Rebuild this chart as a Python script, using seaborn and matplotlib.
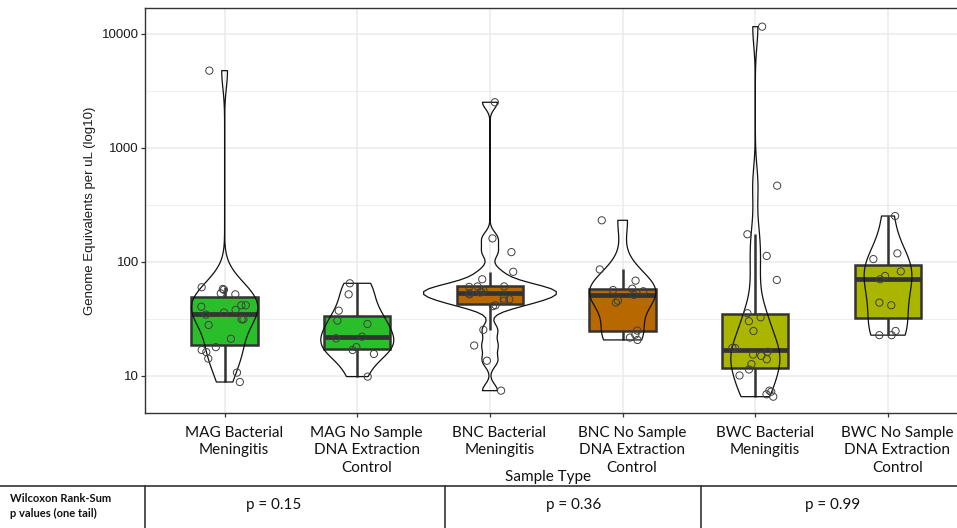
import numpy as np
import pandas as pd
import seaborn as sns
import matplotlib
matplotlib.use("Agg")
import matplotlib.pyplot as plt
from matplotlib import font_manager
from matplotlib.ticker import LogLocator, NullFormatter, FixedLocator
from matplotlib.transforms import blended_transform_factory
from matplotlib.lines import Line2D

# ---------------- data ----------------
groups = ["MAG_BM", "MAG_NS", "BNC_BM", "BNC_NS", "BWC_BM", "BWC_NS"]
tick_labels = [
    "MAG Bacterial\nMeningitis",
    "MAG No Sample\nDNA Extraction\nControl",
    "BNC Bacterial\nMeningitis",
    "BNC No Sample\nDNA Extraction\nControl",
    "BWC Bacterial\nMeningitis",
    "BWC No Sample\nDNA Extraction\nControl",
]
mag_bm = [4770, 60, 58, 52, 53, 57, 40.5, 36, 41.7, 41.7, 38, 34.5, 31.4, 31.4,
          28, 21.2, 16.9, 16.2, 17.9, 14.2, 10.7, 8.85]
mag_ns = [65, 52, 37.4, 30.6, 28.6, 22.1, 21.4, 17.9, 16.9, 15.6, 9.87]
bnc_bm = [2518, 161, 122, 82, 70.5, 61, 61, 60.4, 56, 53, 54.5, 52, 54, 47.6,
          47, 45.7, 41, 41.7, 25.4, 18.5, 13.6, 7.43]
bnc_ns = [232, 86, 68.6, 56.7, 58.3, 51.4, 55.3, 45.7, 44, 25, 23, 21.7, 20.7]
bwc_bm = [11600, 467, 175, 113, 69.5, 35.5, 32.7, 30.2, 24.8, 17.6, 17.6, 16.3,
          15.4, 15, 14, 12.7, 11.4, 10.1, 7.43, 7.28, 6.9, 6.58]
bwc_ns = [253, 119, 106, 82.7, 70.5, 75.3, 44, 41.7, 24.8, 22.8, 22.8]
values = [mag_bm, mag_ns, bnc_bm, bnc_ns, bwc_bm, bwc_ns]
p_labels = ["p = 0.15", "p = 0.36", "p = 0.99"]
table_header = "Wilcoxon Rank-Sum\np values (one tail)"

# ---------------- styling ----------------
box_colors = ["#2BBE2B", "#2BBE2B", "#B86800", "#B86800", "#AAB500", "#AAB500"]
violin_widths = [0.50, 0.55, 1.0, 0.50, 0.37, 0.36]

names = {f.name for f in font_manager.fontManager.ttflist}
narrow = "Lato" if "Lato" in names else "Open Sans"
sans = "Liberation Sans" if "Liberation Sans" in names else "DejaVu Sans"

plt.rcParams["font.family"] = [sans, "DejaVu Sans"]

df = pd.concat(
    [pd.DataFrame({"group": g, "value": v}) for g, v in zip(groups, values)],
    ignore_index=True,
)

W, H = 957, 528
fig = plt.figure(figsize=(W / 100, H / 100), dpi=100)
ax = fig.add_axes([145 / W, (H - 413) / H, (W - 145) / W, 405 / H])

palette = dict(zip(groups, box_colors))

# boxes
sns.boxplot(
    data=df, x="group", y="value", order=groups, hue="group", hue_order=groups,
    palette=palette, width=0.5, showfliers=False, log_scale=True,
    linewidth=1.8, linecolor="#333333", saturation=1, legend=False, ax=ax,
    medianprops=dict(linewidth=3.4, color="#333333"),
    capprops=dict(visible=False),
    whiskerprops=dict(linewidth=1.8, color="#333333"),
)

# violins (one per group, bandwidth like R's bw.nrd0 on log10 data)
for g, v, w in zip(groups, values, violin_widths):
    lv = np.log10(np.asarray(v, dtype=float))
    sd = lv.std(ddof=1)
    q75, q25 = np.percentile(lv, [75, 25])
    h = 0.9 * min(sd, (q75 - q25) / 1.34) * len(lv) ** (-0.2)
    n_before = len(ax.collections)
    sns.violinplot(
        data=df[df.group == g], x="group", y="value", order=groups,
        fill=False, color="black", linewidth=0.9, cut=0, inner=None,
        density_norm="width", width=w, bw_method=h / sd, log_scale=True, ax=ax,
    )
    for c in ax.collections[n_before:]:
        c.set_zorder(3)
        c.set_edgecolor("#111111")
        c.set_facecolor("none")

# jittered points
np.random.seed(11)
n_before = len(ax.collections)
sns.stripplot(
    data=df, x="group", y="value", order=groups, jitter=0.18, size=5.2,
    color="none", edgecolor="#404040", linewidth=0.7, log_scale=True, ax=ax,
)
for c in ax.collections[n_before:]:
    c.set_facecolor("none")
    c.set_edgecolor("#404040")
    c.set_zorder(4)

# axes styling
ax.set_ylim(10 ** 0.675, 10 ** 4.228)
ax.set_xlim(-0.6, 5.52)
ax.yaxis.set_major_locator(FixedLocator([10, 100, 1000, 10000]))
ax.set_yticklabels(["10", "100", "1000", "10000"])
ax.yaxis.set_minor_locator(LogLocator(base=10, subs=[10 ** 0.5]))
ax.yaxis.set_minor_formatter(NullFormatter())
ax.set_axisbelow(True)
ax.grid(True, which="major", color="#EBEBEB", linewidth=1.1)
ax.grid(True, which="minor", axis="y", color="#EBEBEB", linewidth=0.6)
ax.tick_params(which="minor", length=0)
ax.tick_params(which="major", length=3, color="#333333", width=0.9,
               labelsize=9.5, labelcolor="#1a1a1a", pad=1.5)
ax.set_xticks(range(len(groups)))
ax.set_xticklabels([""] * len(groups))
for s in ["left", "top", "bottom"]:
    ax.spines[s].set_color("#333333")
    ax.spines[s].set_linewidth(1.0)
ax.spines["right"].set_visible(False)
ax.set_xlabel("")
ax.set_ylabel("Genome Equivalents per uL (log10)", fontsize=9.5,
              color="#1a1a1a", labelpad=4)

# category labels
tr = blended_transform_factory(ax.transData, fig.transFigure)
for i, lab in enumerate(tick_labels):
    ax.text(i + 0.07, 1 - 426 / H, lab, transform=tr, ha="center", va="top",
            fontsize=11, family=[narrow, "DejaVu Sans"], linespacing=1.3,
            color="#111111")
fig.text(548 / W, 1 - 477 / H, "Sample Type", ha="center", va="center",
         fontsize=11, family=[narrow, "DejaVu Sans"], color="#111111")

# table
ty = 1 - 485.5 / H
fig.add_artist(Line2D([0, 1], [ty, ty], transform=fig.transFigure,
                      color="#333333", linewidth=1.2))
for xp in [144.5, 445, 701]:
    fig.add_artist(Line2D([xp / W, xp / W], [0, ty], transform=fig.transFigure,
                          color="#333333", linewidth=1.2))
fig.text(10 / W, 1 - 506 / H, table_header, ha="left", va="center",
         fontsize=8, fontweight="bold", family=[narrow, "DejaVu Sans"],
         linespacing=1.35, color="#111111")
for xp, t in zip([274, 574, 833], p_labels):
    fig.text(xp / W, 1 - 505 / H, t, ha="center", va="center", fontsize=11,
             family=[narrow, "DejaVu Sans"], color="#111111")

fig.savefig("out.png", dpi=100)
